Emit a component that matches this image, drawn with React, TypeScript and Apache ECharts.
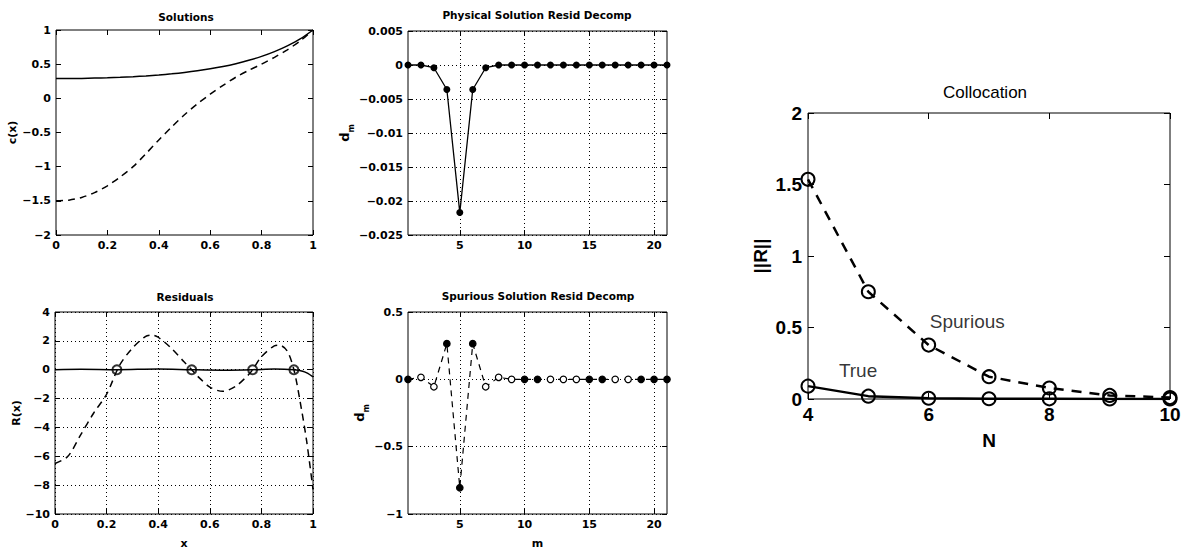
import React, { useEffect, useRef } from "react";
import * as echarts from "echarts";

// ---------- Solutions ----------
const solX = [0, 0.05, 0.1, 0.15, 0.2, 0.25, 0.3, 0.35, 0.4, 0.45, 0.5, 0.55, 0.6, 0.65, 0.7, 0.75, 0.8, 0.85, 0.9, 0.95, 1.0];
const solTrue = [0.29, 0.29, 0.292, 0.296, 0.301, 0.308, 0.317, 0.328, 0.342, 0.359, 0.379, 0.403, 0.432, 0.466, 0.507, 0.556, 0.614, 0.684, 0.768, 0.869, 1.0];
const solSpur = [-1.5, -1.49, -1.45, -1.38, -1.28, -1.15, -1.0, -0.81, -0.61, -0.42, -0.24, -0.08, 0.06, 0.19, 0.31, 0.41, 0.5, 0.6, 0.71, 0.84, 1.0];

// ---------- Residuals ----------
const resSpurX = [0, 0.05, 0.1, 0.15, 0.2, 0.25, 0.3, 0.35, 0.375, 0.4, 0.45, 0.5, 0.53, 0.55, 0.6, 0.65, 0.7, 0.75, 0.766, 0.8, 0.85, 0.87, 0.9, 0.926, 0.95, 0.975, 1.0];
const resSpurY = [-6.5, -6.0, -4.5, -3.0, -1.7, 0.3, 1.5, 2.3, 2.4, 2.25, 1.5, 0.55, 0, -0.4, -1.2, -1.5, -1.15, -0.35, 0, 0.9, 1.65, 1.7, 1.3, 0, -2.2, -4.9, -8.3];
const resTrueX = [0, 0.1, 0.24, 0.4, 0.53, 0.65, 0.766, 0.85, 0.926, 0.96, 0.98, 1.0];
const resTrueY = [0, 0.03, 0, 0.05, 0, -0.03, 0, 0.05, 0, -0.1, -0.25, -0.5];
const collocX = [0.24, 0.53, 0.766, 0.926];
const collocY = [0, 0, 0, 0];

// ---------- Decompositions ----------
const mIdx = [1, 2, 3, 4, 5, 6, 7, 8, 9, 10, 11, 12, 13, 14, 15, 16, 17, 18, 19, 20, 21];
const physD = [0, 0, -0.0004, -0.0036, -0.0217, -0.0036, -0.0004, 0, 0, 0, 0, 0, 0, 0, 0, 0, 0, 0, 0, 0, 0];
const spurD = [0, 0.015, -0.055, 0.265, -0.805, 0.265, -0.055, 0.015, 0, 0, 0, 0, 0, 0, 0, 0, 0, 0, 0, 0, 0];
const spurFilled = [1, 0, 0, 1, 1, 1, 0, 0, 0, 1, 1, 0, 0, 0, 1, 1, 0, 0, 1, 1, 1];
const mTicks = [5, 10, 15, 20];

// ---------- Collocation ----------
const nVals = [4, 5, 6, 7, 8, 9, 10];
const normSpur = [1.536, 0.75, 0.377, 0.156, 0.077, 0.025, 0.01];
const normTrue = [0.09, 0.02, 0.005, 0.002, 0.001, 0.0, 0.0];
const annoText = ["Spurious", "True"];
const annoN = [6.64, 4.83];
const annoR = [0.54, 0.196];

const SMALL_FONT = "DejaVu Sans";
const BIG_FONT = "Liberation Sans";

const fmt = (v: number) => String(parseFloat(Number(v).toPrecision(10))).replace("-", "\u2212");

type Spec = {
  gi: number;
  min: number;
  max: number;
  interval?: number;
  custom?: number[];
  grid?: boolean;
  name?: string;
  nameGap?: number;
  fontSize: number;
  fontWeight: string;
  fontFamily: string;
  nameStyle?: any;
  tickLen?: number;
  margin?: number;
};

function mkAxes(dim: "x" | "y", s: Spec) {
  const tick: any = { show: true, inside: true, length: s.tickLen ?? 5, lineStyle: { color: "#000", width: 1 } };
  if (s.custom) tick.customValues = s.custom;
  const base: any = {
    type: "value",
    gridIndex: s.gi,
    min: s.min,
    max: s.max,
    axisLine: { show: false, onZero: false },
    axisTick: tick,
    splitLine: { show: false },
  };
  if (s.interval !== undefined) base.interval = s.interval;
  const label: any = {
    show: true,
    color: "#000",
    fontSize: s.fontSize,
    fontWeight: s.fontWeight,
    fontFamily: s.fontFamily,
    formatter: fmt,
    margin: s.margin ?? 5,
    showMinLabel: true,
    showMaxLabel: true,
  };
  if (s.custom) label.customValues = s.custom;
  const main = {
    ...base,
    position: dim === "x" ? "bottom" : "left",
    name: s.name,
    nameLocation: "middle",
    nameGap: s.nameGap,
    nameRotate: dim === "y" ? 90 : 0,
    nameTextStyle: s.nameStyle,
    axisLabel: label,
    splitLine: { show: !!s.grid, lineStyle: { color: "#000", type: [1, 3], width: 1 } },
  };
  const second = { ...base, position: dim === "x" ? "top" : "right", axisLabel: { show: false } };
  return [main, second];
}

const smallName = { color: "#000", fontSize: 11, fontWeight: "bold", fontFamily: SMALL_FONT };
const dmName = {
  color: "#000",
  rich: {
    d: { fontSize: 13, fontWeight: "bold", fontFamily: SMALL_FONT, color: "#000", lineHeight: 15 },
    m: { fontSize: 8, fontWeight: "bold", fontFamily: SMALL_FONT, color: "#000", lineHeight: 8, verticalAlign: "bottom", padding: [0, 0, -3, 0] },
  },
};

const smallTick = { fontSize: 11, fontWeight: "bold", fontFamily: SMALL_FONT };
const bigTick = { fontSize: 19, fontWeight: "bold", fontFamily: BIG_FONT };
const bigName = { color: "#000", fontSize: 19, fontWeight: "bold", fontFamily: BIG_FONT };

const zip = (xs: number[], ys: number[]) => xs.map((x, i) => [x, ys[i]]);

export default function App() {
  const ref = useRef<HTMLDivElement>(null);
  useEffect(() => {
    if (!ref.current) return;
    const chart = echarts.init(ref.current, null, { renderer: "svg" });

    const gridBox = { show: true, borderColor: "#000", borderWidth: 1, backgroundColor: "transparent", containLabel: false };
    const grids = [
      { ...gridBox, left: 56, top: 30, width: 257, height: 205 },
      { ...gridBox, left: 408, top: 31, width: 259, height: 204 },
      { ...gridBox, left: 55, top: 312, width: 258, height: 202 },
      { ...gridBox, left: 408, top: 312, width: 259, height: 202 },
      { ...gridBox, left: 808, top: 113, width: 362, height: 286 },
    ];

    const xAxes = [
      ...mkAxes("x", { gi: 0, min: 0, max: 1, interval: 0.2, ...smallTick }),
      ...mkAxes("x", { gi: 1, min: 1, max: 21, custom: mTicks, grid: true, ...smallTick }),
      ...mkAxes("x", { gi: 2, min: 0, max: 1, interval: 0.2, grid: true, name: "x", nameGap: 24, nameStyle: smallName, ...smallTick }),
      ...mkAxes("x", { gi: 3, min: 1, max: 21, custom: mTicks, grid: true, name: "m", nameGap: 24, nameStyle: smallName, ...smallTick }),
      ...mkAxes("x", { gi: 4, min: 4, max: 10, interval: 2, name: "N", nameGap: 32, nameStyle: bigName, tickLen: 6, margin: 6, ...bigTick }),
    ];
    const yAxes = [
      ...mkAxes("y", { gi: 0, min: -2, max: 1, interval: 0.5, name: "c(x)", nameGap: 36, nameStyle: smallName, ...smallTick }),
      ...mkAxes("y", { gi: 1, min: -0.025, max: 0.005, interval: 0.005, grid: true, name: "{d|d}{m|m}", nameGap: 52, nameStyle: dmName, ...smallTick }),
      ...mkAxes("y", { gi: 2, min: -10, max: 4, interval: 2, grid: true, name: "R(x)", nameGap: 30, nameStyle: smallName, ...smallTick }),
      ...mkAxes("y", { gi: 3, min: -1, max: 0.5, interval: 0.5, grid: true, name: "{d|d}{m|m}", nameGap: 36, nameStyle: dmName, ...smallTick }),
      ...mkAxes("y", { gi: 4, min: 0, max: 2, interval: 0.5, name: "||R||", nameGap: 38, nameStyle: bigName, tickLen: 6, margin: 6, ...bigTick }),
    ];

    const blk = "#000";
    const series: any[] = [
      // Solutions
      { type: "line", xAxisIndex: 0, yAxisIndex: 0, data: zip(solX, solTrue), showSymbol: false, smooth: 0.3, lineStyle: { color: blk, width: 1.5 } },
      { type: "line", xAxisIndex: 0, yAxisIndex: 0, data: zip(solX, solSpur), showSymbol: false, smooth: 0.3, lineStyle: { color: blk, width: 1.5, type: [7, 5] } },
      // Physical decomp
      { type: "line", xAxisIndex: 2, yAxisIndex: 2, data: zip(mIdx, physD), symbol: "circle", symbolSize: 7, itemStyle: { color: blk }, lineStyle: { color: blk, width: 1.3 } },
      // Residuals
      { type: "line", xAxisIndex: 4, yAxisIndex: 4, data: zip(resSpurX, resSpurY), showSymbol: false, smooth: 0.3, lineStyle: { color: blk, width: 1.5, type: [7, 5] } },
      { type: "line", xAxisIndex: 4, yAxisIndex: 4, data: zip(resTrueX, resTrueY), showSymbol: false, smooth: 0.3, lineStyle: { color: blk, width: 1.5 } },
      { type: "scatter", xAxisIndex: 4, yAxisIndex: 4, data: zip(collocX, collocY), symbol: "circle", symbolSize: 9, itemStyle: { color: "rgba(0,0,0,0)", borderColor: blk, borderWidth: 2 } },
      // Spurious decomp
      {
        type: "line", xAxisIndex: 6, yAxisIndex: 6, symbol: "circle", symbolSize: 6.5,
        data: mIdx.map((m, i) => ({ value: [m, spurD[i]], itemStyle: { color: spurFilled[i] ? blk : "#fff", borderColor: blk, borderWidth: 1.2 } })),
        lineStyle: { color: blk, width: 1.2, type: [6, 5] },
      },
      // Collocation
      { type: "line", xAxisIndex: 8, yAxisIndex: 8, data: zip(nVals, normSpur), symbol: "circle", symbolSize: 13, itemStyle: { color: "rgba(0,0,0,0)", borderColor: blk, borderWidth: 2 }, lineStyle: { color: blk, width: 2.5, type: [10, 8] } },
      { type: "line", xAxisIndex: 8, yAxisIndex: 8, data: zip(nVals, normTrue), symbol: "circle", symbolSize: 13, itemStyle: { color: "rgba(0,0,0,0)", borderColor: blk, borderWidth: 2 }, lineStyle: { color: blk, width: 2.5 } },
      {
        type: "scatter", xAxisIndex: 8, yAxisIndex: 8, symbolSize: 0,
        data: annoText.map((t, i) => ({ name: t, value: [annoN[i], annoR[i]] })),
        label: { show: true, position: "inside", formatter: "{b}", color: blk, fontSize: 19, fontFamily: BIG_FONT },
        itemStyle: { color: "rgba(0,0,0,0)" },
      },
    ];

    const titleText = (text: string, x: number, y: number, size: number, weight: string, family: string) => ({
      type: "text", x, y, silent: true,
      style: { text, fill: "#000", fontSize: size, fontWeight: weight, fontFamily: family, align: "center", verticalAlign: "middle" },
    });

    chart.setOption({
      animation: false,
      backgroundColor: "#fff",
      grid: grids,
      xAxis: xAxes,
      yAxis: yAxes,
      series,
      graphic: [
        titleText("Solutions", 186, 17, 10.5, "bold", SMALL_FONT),
        titleText("Physical Solution Resid Decomp", 537, 15, 10.5, "bold", SMALL_FONT),
        titleText("Residuals", 185, 297, 10.5, "bold", SMALL_FONT),
        titleText("Spurious Solution Resid Decomp", 538, 296, 10.5, "bold", SMALL_FONT),
        titleText("Collocation", 985, 92, 17, "normal", BIG_FONT),
      ],
    });
    return () => chart.dispose();
  }, []);
  return <div ref={ref} style={{ position: "absolute", left: 0, top: 0, width: 1188, height: 551 }} />;
}
